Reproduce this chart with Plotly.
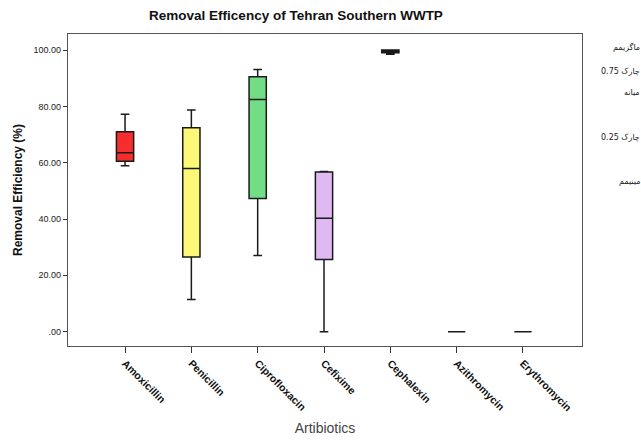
import plotly.graph_objects as go

categories = ["Amoxicillin", "Penicillin", "Ciprofloxacin", "Cefixime",
              "Cephalexin", "Azithromycin", "Erythromycin"]
lower_fence = [58.9, 11.4, 27.0, 0.0, 98.5, 0.0, 0.0]
q1_vals = [60.5, 26.5, 47.3, 25.6, 99.0, 0.0, 0.0]
median_vals = [63.5, 57.9, 82.4, 40.3, 99.6, 0.0, 0.0]
q3_vals = [71.0, 72.4, 90.5, 56.7, 100.0, 0.0, 0.0]
upper_fence = [77.2, 78.7, 93.1, 56.9, 100.0, 0.0, 0.0]
fill_colors = ["#f52d2d", "#fbf977", "#72dd84", "#dfb9f1", "#000000", "#ffffff", "#ffffff"]

y_tickvals = [0, 20, 40, 60, 80, 100]
y_ticktext = [".00", "20.00", "40.00", "60.00", "80.00", "100.00"]

legend_labels = ["ماگزیمم", "چارک 0.75", "میانه", "چارک 0.25", "مینیمم"]
legend_y_px = [47, 71, 92, 137, 181]

fig = go.Figure()
for i, c in enumerate(categories):
    fig.add_trace(go.Box(
        x=[c], q1=[q1_vals[i]], median=[median_vals[i]], q3=[q3_vals[i]],
        lowerfence=[lower_fence[i]], upperfence=[upper_fence[i]],
        fillcolor=fill_colors[i], line=dict(color="#1a1a1a", width=1.5),
        width=0.26, whiskerwidth=0.5, showlegend=False, boxpoints=False,
    ))

W, H = 641, 441
ml, mr, mt, mb = 68, 59, 34, 95

for lab, ypx in zip(legend_labels, legend_y_px):
    fig.add_annotation(
        x=(642 - ml) / (W - ml - mr), xref="paper", xanchor="right",
        y=1 - (ypx - mt) / (H - mt - mb), yref="paper", yanchor="middle",
        text=lab, showarrow=False,
        font=dict(family="DejaVu Sans", size=8, color="#222222"),
    )

fig.update_layout(
    width=W, height=H,
    margin=dict(l=ml, r=mr, t=mt, b=mb, autoexpand=False),
    paper_bgcolor="white", plot_bgcolor="white",
    font=dict(family="Liberation Sans, Arial, sans-serif", color="#222222"),
    title=dict(text="<b>Removal Efficency of Tehran Southern WWTP</b>",
               x=296 / W, xanchor="center", y=1 - 15 / H, yanchor="middle",
               font=dict(size=13.5, color="#111111")),
    xaxis=dict(
        type="category", range=[-0.86, 6.89], automargin=False,
        tickvals=categories, ticktext=["<b>%s</b>" % c for c in categories],
        tickangle=45, tickfont=dict(size=10.5, color="#111111"),
        ticks="outside", ticklen=6, tickcolor="#333333",
        showline=True, linecolor="#555555", linewidth=1.2, mirror=True,
        showgrid=False, zeroline=False,
        title=dict(text="Artibiotics", font=dict(size=14, color="#444444"), standoff=10),
    ),
    yaxis=dict(
        range=[-5.1, 105.7], automargin=False,
        tickvals=y_tickvals, ticktext=y_ticktext,
        tickfont=dict(size=9, color="#222222"),
        ticks="outside", ticklen=4, tickcolor="#333333",
        showline=True, linecolor="#555555", linewidth=1.2, mirror=True,
        showgrid=False, zeroline=False,
        title=dict(text="<b>Removal Efficiency (%)</b>", font=dict(size=12, color="#111111"),
                   standoff=8),
    ),
)

fig.write_html("out.html", config={"displayModeBar": False},
               post_script="document.body.style.margin='0';document.body.style.padding='0';")
